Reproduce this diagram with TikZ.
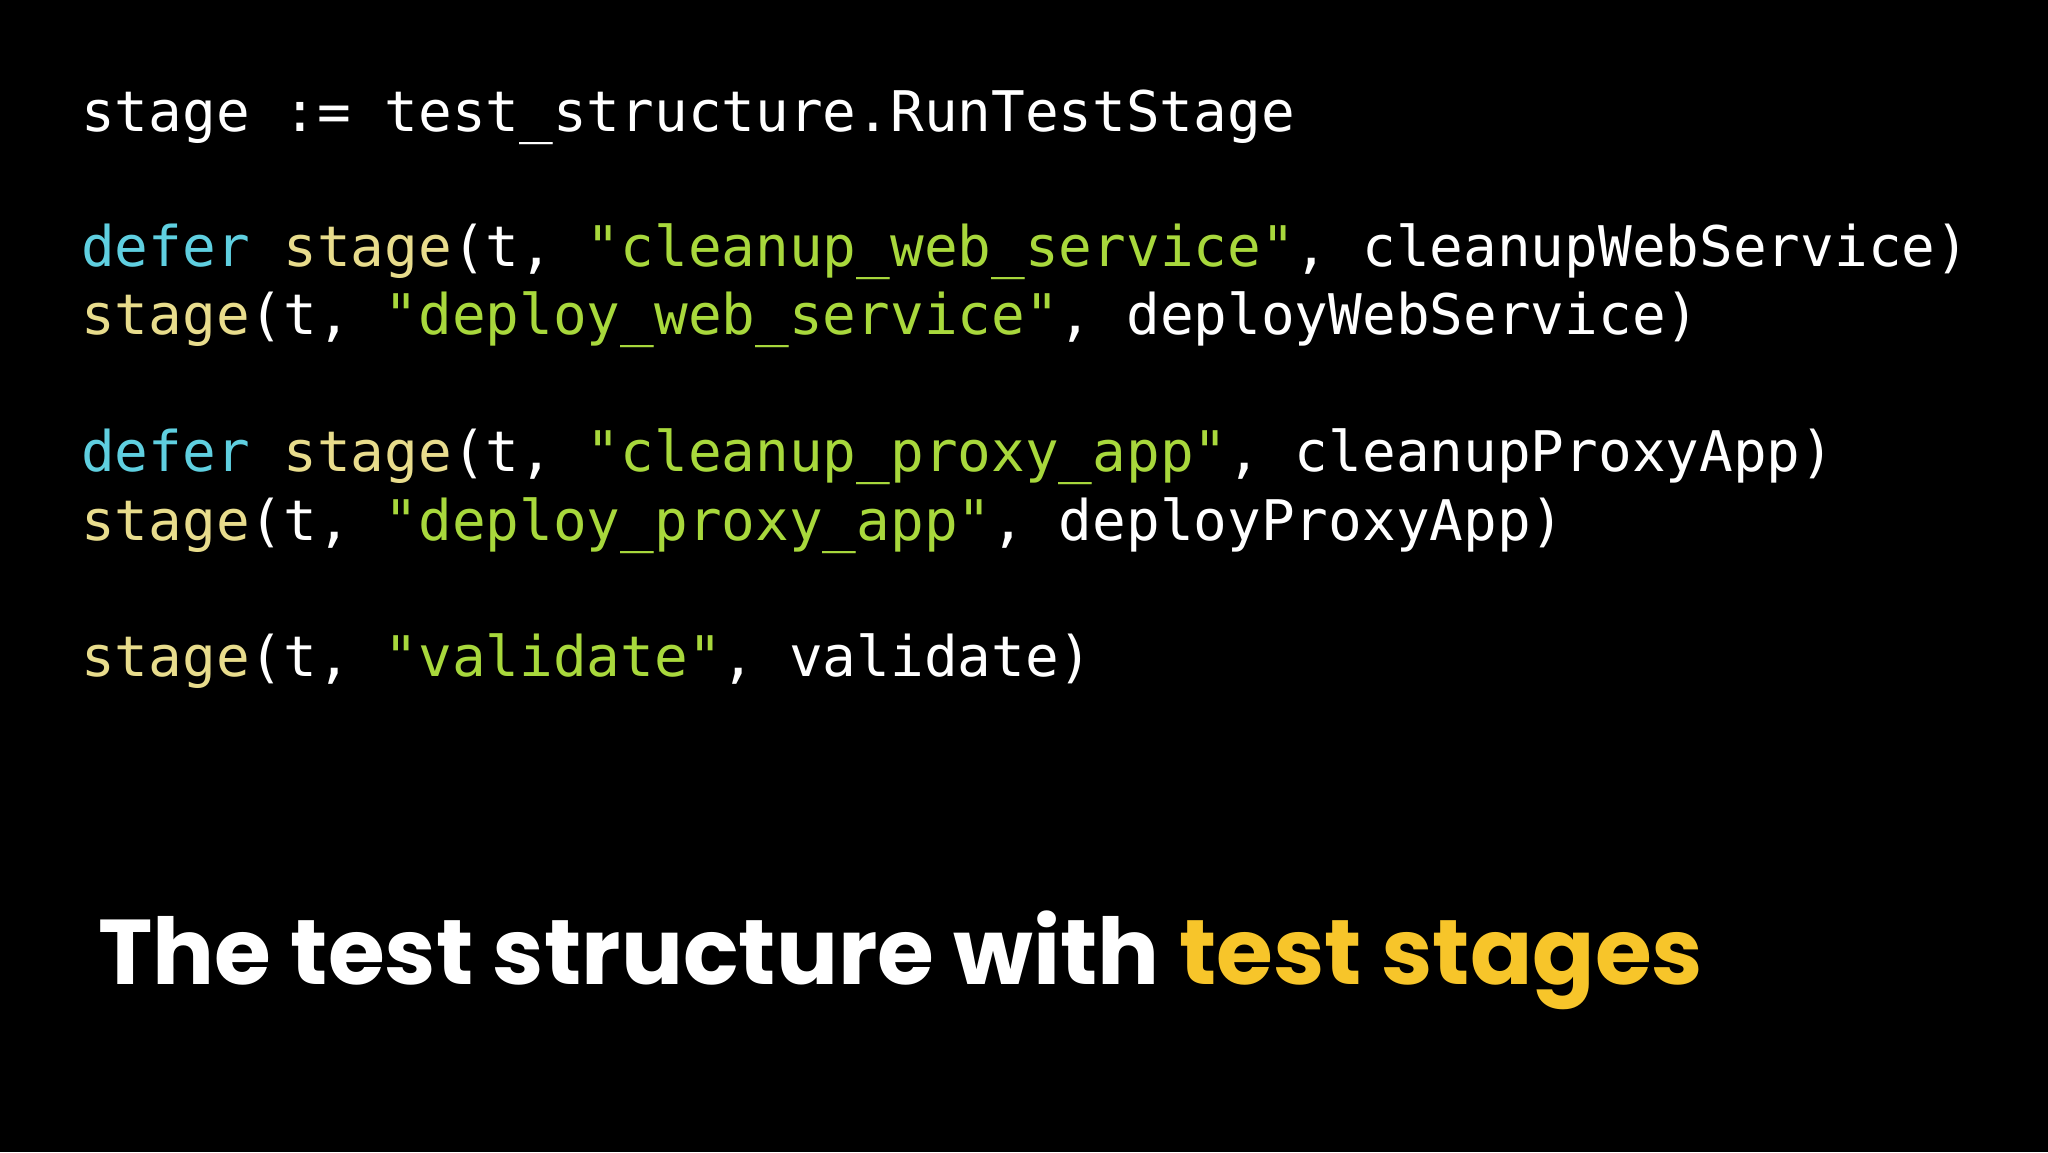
\documentclass[tikz,border=0pt]{standalone}
\usepackage{fontspec}
\newfontfamily\code{DejaVu Sans Mono}
\newfontfamily\ttl{Poppins Bold}
\definecolor{kw}{HTML}{5FCFE0}
\definecolor{fn}{HTML}{E8DC8C}
\definecolor{st}{HTML}{A8D83C}
\definecolor{ty}{HTML}{F7C52A}
\tikzset{codeline/.style={anchor=west,inner sep=0pt,text=white,font=\code\fontsize{56}{60}\selectfont}}
\begin{document}
\begin{tikzpicture}[x=1pt,y=-1pt]
\fill[black] (0,0) rectangle (2048,1152);
\useasboundingbox (0,0) rectangle (2048,1152);
\node[codeline] (l1) at (81,117) {stage := test\_structure.RunTestStage};
\node[codeline] (l2) at (81,252) {\textcolor{kw}{defer} \textcolor{fn}{stage}(t, \textcolor{st}{"cleanup\_web\_service"}, cleanupWebService)};
\node[codeline] (l3) at (81,320) {\textcolor{fn}{stage}(t, \textcolor{st}{"deploy\_web\_service"}, deployWebService)};
\node[codeline] (l4) at (81,457) {\textcolor{kw}{defer} \textcolor{fn}{stage}(t, \textcolor{st}{"cleanup\_proxy\_app"}, cleanupProxyApp)};
\node[codeline] (l5) at (81,526) {\textcolor{fn}{stage}(t, \textcolor{st}{"deploy\_proxy\_app"}, deployProxyApp)};
\node[codeline] (l6) at (81,661) {\textcolor{fn}{stage}(t, \textcolor{st}{"validate"}, validate)};
\node[anchor=west,inner sep=0pt,text=white,font=\ttl\fontsize{92}{100}\selectfont] (title) at (98,960) {The test structure with \textcolor{ty}{test stages}};
\end{tikzpicture}
\end{document}
